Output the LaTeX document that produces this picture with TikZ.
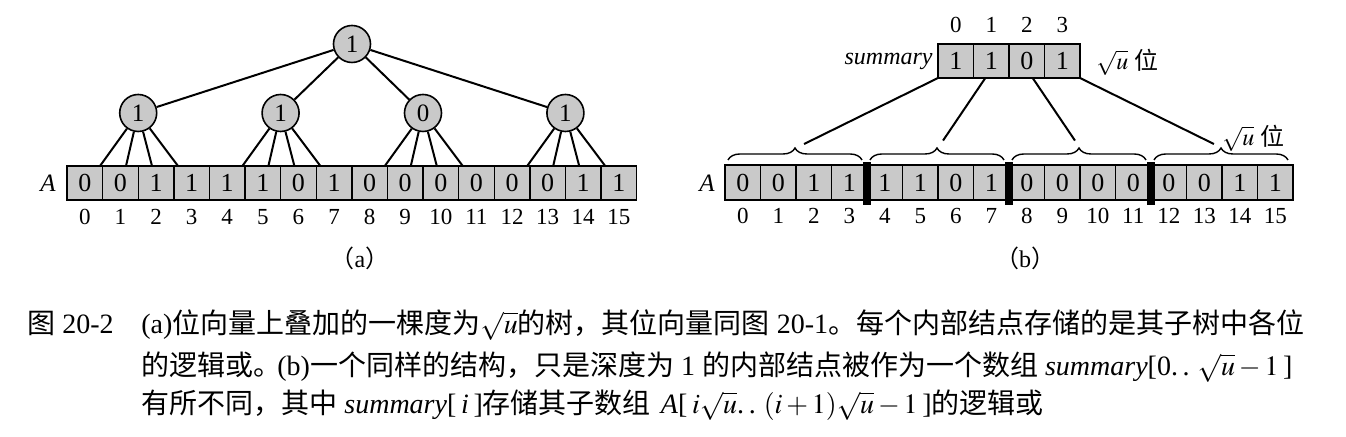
\documentclass[tikz,border=0pt]{standalone}
\usepackage{mathptmx}
\usepackage{fontspec}
\setmainfont{Liberation Serif}
\newfontfamily\cjk{Noto Sans CJK SC}
\usetikzlibrary{decorations.pathreplacing}
\definecolor{cellgray}{gray}{0.79}
\newcommand\cj[1]{{\cjk #1}}
\begin{document}
\begin{tikzpicture}[x=0.5pt,y=-0.5pt,
  cell/.style={draw,line width=0.7pt,fill=cellgray,inner sep=0pt,minimum width=17.8pt,minimum height=17pt,font=\fontsize{13}{15}\selectfont},
  circ/.style={circle,draw,line width=0.8pt,fill=cellgray,inner sep=0pt,minimum size=18.5pt,font=\fontsize{12.5}{14}\selectfont},
  edge/.style={line width=1pt},
  idx/.style={inner sep=0pt,font=\fontsize{11.5}{13}\selectfont},
  lab/.style={inner sep=0pt,font=\fontsize{12}{14}\selectfont},
  brace/.style={decorate,decoration={brace,amplitude=6pt},line width=0.7pt},
  captext/.style={inner sep=0pt,font=\fontsize{14}{16}\selectfont}]
\useasboundingbox (0,0) rectangle (1346,437);
% ---------- (a) ----------
\foreach \v [count=\i from 0] in {0,0,1,1,1,1,0,1,0,0,0,0,0,0,1,1}{
  \node[cell] (a\i) at ({67+35.6*\i+17.8},183) {\v};
  \node[idx] (ai\i) at ({67+35.6*\i+17.8},217) {\i};
}
\node[lab,font=\itshape\fontsize{12.5}{14}\selectfont] (A1) at (48,183) {A};
\foreach \v [count=\g from 0] in {1,1,0,1}{
  \node[circ] (l\g) at ({138.2+142.4*\g},113) {\v};
  \foreach \k in {0,...,3}{
    \coordinate (t\g\k) at ({67+142.4*\g+33+26*\k},166);
    \draw[edge] (l\g) -- (t\g\k);
  }
}
\node[circ] (r) at (352,44) {1};
\foreach \g in {0,...,3}{\draw[edge] (r) -- (l\g);}
\node[lab] (capa) at (360,258) {\cj{（}a\cj{）}};
% ---------- (b) ----------
\foreach \v [count=\i from 0] in {1,1,0,1}{
  \node[cell,minimum width=17.75pt] (s\i) at ({938+35.5*\i+17.75},61) {\v};
  \node[idx] (si\i) at ({938+35.5*\i+17.75},25) {\i};
}
\node[lab,anchor=east,font=\itshape\fontsize{12}{14}\selectfont] (sumlab) at (933,61) {summary};
\node[lab,anchor=west] (sq1) at (1096,62) {$\sqrt{u}$ \cj{位}};
\foreach \v [count=\i from 0] in {0,0,1,1,1,1,0,1,0,0,0,0,0,0,1,1}{
  \node[cell,minimum width=17.75pt,minimum height=17.5pt] (b\i) at ({725+35.5*\i+17.75},182.5) {\v};
  \node[idx] (bi\i) at ({725+35.5*\i+17.75},216) {\i};
}
\node[lab,font=\itshape\fontsize{12.5}{14}\selectfont] (A2) at (707,183) {A};
\foreach \g in {1,2,3}{\fill ({725+142*\g-4},162) rectangle ({725+142*\g+4},205);}
\foreach \g in {0,...,3}{
  \draw[brace] ({728+142*\g},160) -- ({862+142*\g},160);
  \coordinate (bt\g) at ({796+142*\g},148);
  \coordinate (sb\g) at ({938+47.33*\g},78);
  \draw[edge,shorten >=4.5pt] (sb\g) -- (bt\g);
}
\node[lab,anchor=west] (sq2) at (1222,138) {$\sqrt{u}$ \cj{位}};
\node[lab] (capb) at (1025,258) {\cj{（}b\cj{）}};
% ---------- caption ----------
\node[captext,anchor=base west] (fig) at (27,334) {\cj{图} 20-2};
\node[captext,anchor=base west] (c1) at (141,334) {(a)\cj{位向量上叠加的一棵度为}$\sqrt{u}$\cj{的树，其位向量同图} 20-1\cj{。每个内部结点存储的是其子树中各位}};
\node[captext,anchor=base west] (c2) at (141,376) {\cj{的逻辑或。}\kern-2pt(b)\cj{一个同样的结构，只是深度为} 1 \cj{的内部结点被作为一个数组} \textit{summary}[0.\,.\hspace{4pt}$\sqrt{u}-1$\,]};
\node[captext,anchor=base west] (c3) at (141,414) {\cj{有所不同，其中} \textit{summary}[\,\textit{i}\,]\cj{存储其子数组}\hspace{5pt}\textit{A}[\,$i\sqrt{u}$.\,.\hspace{4pt}$(i+1)\sqrt{u}-1$\,]\cj{的逻辑或}};
\end{tikzpicture}
\end{document}
